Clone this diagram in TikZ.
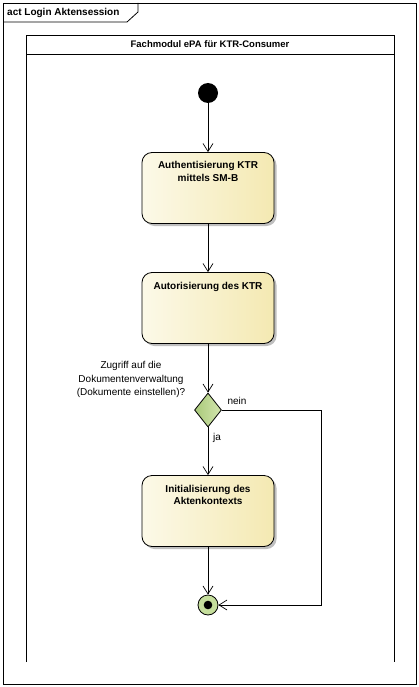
\documentclass[tikz,border=0pt]{standalone}
\usepackage{fontspec}
\setmainfont{Liberation Sans}
\usetikzlibrary{arrows.meta,shapes.geometric,shadows}
\definecolor{boxL}{HTML}{FCF9E8}
\definecolor{boxR}{HTML}{F4E9B2}
\definecolor{decL}{HTML}{A9C97A}
\definecolor{decR}{HTML}{D3E6AE}
\definecolor{finG}{HTML}{C5DE9C}
\tikzset{
  ln/.style={line width=0.8pt, draw=black},
  flow/.style={ln, -{Straight Barb[length=8pt,width=10pt,line width=0.7pt]}},
  actbox/.style={ln, rounded corners=10pt, minimum width=132pt, minimum height=71pt,
    inner sep=0pt, left color=boxL, right color=boxR,
    drop shadow={shadow xshift=2.5pt, shadow yshift=-2.5pt, fill=black!25, opacity=1}},
  acttext/.style={font=\fontsize{10}{12.5}\selectfont\bfseries, align=center, anchor=north, inner sep=0pt},
  lbl/.style={font=\fontsize{10}{13.5}\selectfont, align=center, inner sep=0pt},
}
\begin{document}
\begin{tikzpicture}[x=1pt,y=-1pt]
\useasboundingbox (0,0) rectangle (419,687);
% outer frame
\draw[ln] (3,3) rectangle (416,684);
\draw[ln] (3,22) -- (127,22) -- (138,12) -- (138,3);
\node[font=\fontsize{10}{12}\selectfont\bfseries, anchor=west, inner sep=0pt] (title) at (7,13) {act Login Aktensession};
% swimlane
\draw[ln] (26,662) -- (26,35) -- (394,35) -- (394,662);
\draw[ln] (26,54) -- (394,54);
\node[font=\fontsize{9.5}{12}\selectfont\bfseries, inner sep=0pt] (lane) at (210,44.5) {Fachmodul ePA für KTR-Consumer};
% nodes
\node[circle, fill=black, minimum size=20pt, inner sep=0pt] (start) at (208,93) {};
\node[actbox] (a1) at (208,188) {};
\node[acttext] (t1) at (208,161.5) {Authentisierung KTR\\mittels SM-B};
\node[actbox] (a2) at (208,308) {};
\node[acttext] (t2) at (208,282.5) {Autorisierung des KTR};
\node[diamond, ln, minimum width=27pt, minimum height=34pt, inner sep=0pt, left color=decL, right color=decR] (d) at (208,410) {};
\node[actbox] (a3) at (208,511) {};
\node[acttext] (t3) at (208,485) {Initialisierung des\\Aktenkontexts};
\node[circle, ln, fill=finG, minimum size=20pt, inner sep=0pt] (end) at (208,605) {};
\node[circle, fill=black, minimum size=8.6pt, inner sep=0pt] (endin) at (208,605) {};
\coordinate (c1) at (321,410);
\coordinate (c2) at (321,605);
% labels
\node[lbl] (guard) at (131,379.5) {Zugriff auf die\\Dokumentenverwaltung\\(Dokumente einstellen)?};
\node[lbl] (nein) at (237,401) {nein};
\node[lbl] (ja) at (217,438) {ja};
% flows
\draw[flow] (start) -- (a1);
\draw[flow] (a1) -- (a2);
\draw[flow] (a2) -- (d);
\draw[flow] (d) -- (a3);
\draw[flow] (a3) -- (end);
\draw[flow] (d.east) -- (c1) -- (c2) -- (end.east);
\end{tikzpicture}
\end{document}
